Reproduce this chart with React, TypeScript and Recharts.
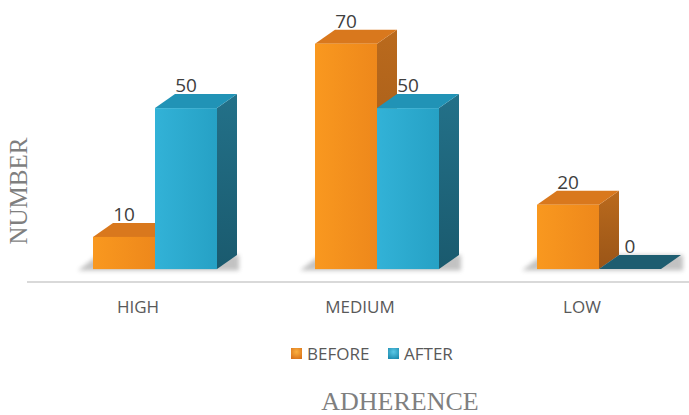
import React from 'react';
import { BarChart, Bar, XAxis, YAxis, Legend, LabelList } from 'recharts';

// Adherence counts before and after, per level
const categories = ['HIGH', 'MEDIUM', 'LOW'];
const beforeValues = [10, 70, 20];
const afterValues = [50, 50, 0];
const seriesNames = ['BEFORE', 'AFTER'];

const data = categories.map((name, i) => ({
  name,
  before: beforeValues[i],
  after: afterValues[i],
}));

// Oblique depth of the boxes
const DX = 20;
const DY = -14;

const palettes: Record<string, any> = {
  before: {
    front: ['#F9981F', '#EE881B'],
    top: '#D9781D',
    side: ['#BA6A1D', '#9A5517'],
    flat: '#C66C1C',
    legend: ['#FBB040', '#D9731A'],
  },
  after: {
    front: ['#32B2D7', '#26A1C5'],
    top: '#2193B6',
    side: ['#237189', '#1A5A6E'],
    flat: '#1E5D70',
    legend: ['#5BC8E6', '#1E8CB0'],
  },
};

const FONT = '"Open Sans", "DejaVu Sans", sans-serif';
const SERIF = '"Liberation Serif", "DejaVu Serif", serif';

function makeBox(kind: string) {
  return function Box3D(props: any) {
    const { x, y, width, height, index } = props;
    const p = palettes[kind];
    const base = y + height;
    const id = `${kind}-${index}`;
    const shadow =
      kind === 'before' ? (
        <polygon
          points={`${x - 15},${base + 1.5} ${x + 2 * width + DX + 2},${base + 1.5} ${x + 2 * width + DX + 2},${base + DY} ${x - 15 + DX},${base + DY}`}
          fill="#7a7a7a"
          opacity={0.45}
          filter={`url(#blur-${id})`}
        />
      ) : null;
    const defs = (
      <defs>
        <filter id={`blur-${id}`} x="-20%" y="-100%" width="140%" height="300%">
          <feGaussianBlur stdDeviation="2" />
        </filter>
        <linearGradient id={`front-${id}`} x1="0" y1="0" x2="1" y2="0">
          <stop offset="0" stopColor={p.front[0]} />
          <stop offset="1" stopColor={p.front[1]} />
        </linearGradient>
        <linearGradient id={`side-${id}`} x1="0" y1="0" x2="0" y2="1">
          <stop offset="0" stopColor={p.side[0]} />
          <stop offset="1" stopColor={p.side[1]} />
        </linearGradient>
      </defs>
    );
    if (height < 0.5) {
      return (
        <g>
          {defs}
          {shadow}
          <polygon
            points={`${x},${base} ${x + width},${base} ${x + width + DX},${base + DY} ${x + DX},${base + DY}`}
            fill={p.flat}
          />
        </g>
      );
    }
    return (
      <g>
        {defs}
        {shadow}
        <polygon
          points={`${x + width},${y} ${x + width + DX},${y + DY} ${x + width + DX},${base + DY} ${x + width},${base}`}
          fill={`url(#side-${id})`}
        />
        <polygon
          points={`${x},${y} ${x + DX},${y + DY} ${x + width + DX},${y + DY} ${x + width},${y}`}
          fill={p.top}
        />
        <rect x={x} y={y} width={width} height={height} fill={`url(#front-${id})`} />
      </g>
    );
  };
}

const BeforeBox = makeBox('before');
const AfterBox = makeBox('after');

function ValueLabel(props: any) {
  const { x, y, width, value } = props;
  return (
    <text
      x={x + width / 2}
      y={y + DY - 2}
      textAnchor="middle"
      fontSize={19}
      fontFamily={FONT}
      fill="#404040"
    >
      {value}
    </text>
  );
}

function CategoryTick(props: any) {
  const { x, y, payload } = props;
  return (
    <text x={x - 17} y={y + 31} textAnchor="middle" fontSize={17} fontFamily={FONT} fill="#595959">
      {payload.value}
    </text>
  );
}

function LegendContent(props: any) {
  const items = [...(props.payload || [])].sort(
    (a: any, b: any) => seriesNames.indexOf(a.value) - seriesNames.indexOf(b.value),
  );
  const positions = [0, 97];
  return (
    <svg width={200} height={30} style={{ display: 'block' }}>
      <defs>
        {items.map((entry: any) => {
          const key = entry.dataKey as string;
          const p = palettes[key];
          return (
            <radialGradient key={key} id={`legend-${key}`} cx="0.5" cy="0.35" r="0.7">
              <stop offset="0" stopColor={p.legend[0]} />
              <stop offset="1" stopColor={p.legend[1]} />
            </radialGradient>
          );
        })}
      </defs>
      {items.map((entry: any, i: number) => (
        <g key={entry.value} transform={`translate(${positions[i]},0)`}>
          <rect x={0} y={7} width={11} height={11} fill={`url(#legend-${entry.dataKey})`} />
          <text x={16} y={19} fontSize={17} fontFamily={FONT} fill="#595959">
            {entry.value}
          </text>
        </g>
      ))}
    </svg>
  );
}

// Both axis titles, placed around the plot
function AxisTitles() {
  return (
    <g>
      <text
        x={27}
        y={191}
        transform="rotate(-90, 27, 191)"
        textAnchor="middle"
        fontSize={25}
        fontFamily={SERIF}
        fill="#7f7f7f"
      >
        NUMBER
      </text>
      <text x={400} y={410} textAnchor="middle" fontSize={26} fontFamily={SERIF} fill="#7f7f7f">
        ADHERENCE
      </text>
    </g>
  );
}

export default function App() {
  return (
    <div
      style={{
        position: 'absolute',
        left: 0,
        top: 0,
        width: 689,
        height: 415,
        overflow: 'hidden',
        background: '#ffffff',
      }}
    >
      <BarChart
        width={720}
        height={415}
        data={data}
        margin={{ top: 11.5, right: 10, bottom: 73, left: 27 }}
        barGap={0}
        barSize={62}
        style={{ fontFamily: FONT }}
      >
        <XAxis
          dataKey="name"
          padding={{ left: 17, right: 0 }}
          axisLine={{ stroke: '#d9d9d9', strokeWidth: 2 }}
          tickLine={false}
          tickSize={0}
          tickMargin={0}
          tick={<CategoryTick />}
          label={<AxisTitles />}
        />
        <YAxis domain={[-4, 80]} hide />
        <Legend
          content={<LegendContent />}
          wrapperStyle={{ position: 'absolute', left: 291, top: 341, width: 200, height: 30 }}
        />
        <Bar dataKey="before" name={seriesNames[0]} shape={<BeforeBox />} isAnimationActive={false}>
          <LabelList dataKey="before" content={<ValueLabel />} />
        </Bar>
        <Bar dataKey="after" name={seriesNames[1]} shape={<AfterBox />} isAnimationActive={false}>
          <LabelList dataKey="after" content={<ValueLabel />} />
        </Bar>
      </BarChart>
    </div>
  );
}
